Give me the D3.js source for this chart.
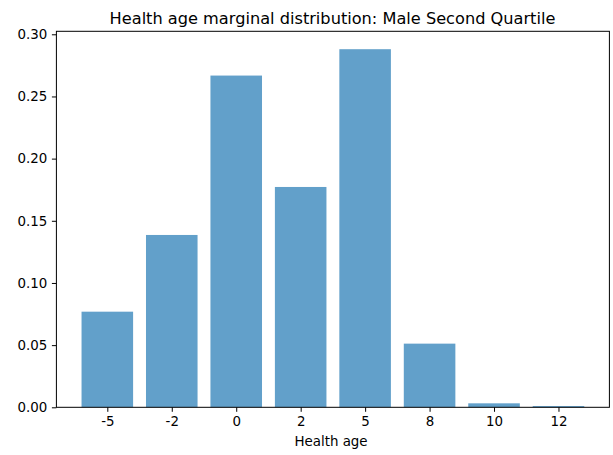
<!DOCTYPE html>
<html>
<head>
<meta charset="utf-8">
<script src="https://cdn.jsdelivr.net/npm/d3@7"></script>
<style>
  html, body { margin: 0; padding: 0; background: #fff; }
  svg { display: block; }
  text { font-family: "DejaVu Sans", sans-serif; fill: #000; }
</style>
</head>
<body>
<svg id="chart" width="613" height="455"></svg>
<script>
const categories = ["-5", "-2", "0", "2", "5", "8", "10", "12"];
const values = [0.0769, 0.1386, 0.2668, 0.1772, 0.2880, 0.0512, 0.0032, 0.0010];
const yTicks = [0.00, 0.05, 0.10, 0.15, 0.20, 0.25, 0.30];
const titleText = "Health age marginal distribution: Male Second Quartile";
const xLabel = "Health age";

const W = 613, H = 455;
const m = { left: 56.4, right: 613 - 609.4, top: 31.3, bottom: 455 - 407.3 };
const svg = d3.select("#chart");
const iw = W - m.left - m.right, ih = H - m.top - m.bottom;
const g = svg.append("g").attr("transform", `translate(${m.left},${m.top})`);

const n = categories.length;
const lo = -0.4 - 0.05 * (n - 1 + 0.8), hi = (n - 1) + 0.4 + 0.05 * (n - 1 + 0.8);
const x = d3.scaleLinear().domain([lo, hi]).range([0, iw]);
const yMax = d3.max(values) * 1.05;
const y = d3.scaleLinear().domain([0, yMax]).range([ih, 0]);

g.selectAll("rect.bar").data(values).join("rect")
  .attr("class", "bar")
  .attr("x", (d, i) => x(i - 0.4))
  .attr("width", (d, i) => x(i + 0.4) - x(i - 0.4))
  .attr("y", d => y(d))
  .attr("height", d => y(0) - y(d))
  .attr("fill", "#1f77b4")
  .attr("fill-opacity", 0.7);

const fs = 13.4;
const xAxis = d3.axisBottom(x).tickValues(d3.range(n)).tickFormat(i => categories[i])
  .tickSize(4.5).tickPadding(4.2).tickSizeOuter(0);
const gx = g.append("g").attr("transform", `translate(0,${ih})`).call(xAxis);
gx.select(".domain").remove();
gx.selectAll("text").style("font-size", fs + "px").style("font-family", "DejaVu Sans");
gx.selectAll("line").attr("stroke", "#000").attr("stroke-width", 1);

const yAxis = d3.axisLeft(y).tickValues(yTicks).tickFormat(d3.format(".2f"))
  .tickSize(4.5).tickPadding(4.5).tickSizeOuter(0);
const gy = g.append("g").call(yAxis);
gy.select(".domain").remove();
gy.selectAll("text").style("font-size", fs + "px").style("font-family", "DejaVu Sans");
gy.selectAll("line").attr("stroke", "#000").attr("stroke-width", 1);

g.append("rect").attr("x", 0).attr("y", 0).attr("width", iw).attr("height", ih)
  .attr("fill", "none").attr("stroke", "#000").attr("stroke-width", 1);

const t = svg.append("text").attr("x", 332.5).attr("y", 24)
  .attr("text-anchor", "middle").style("font-size", "16px").text(titleText);
// fit title width to the reference span (~446px)
const tw = t.node().getComputedTextLength();
if (tw > 0) t.style("font-size", (16 * 446 / tw).toFixed(2) + "px");

const xl = svg.append("text").attr("x", 331).attr("y", 446.3)
  .attr("text-anchor", "middle").style("font-size", fs + "px").text(xLabel);
</script>
</body>
</html>
